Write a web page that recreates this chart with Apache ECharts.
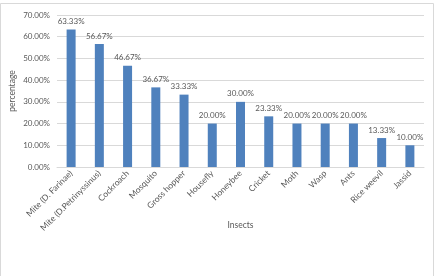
<!DOCTYPE html>
<html>
<head>
  <meta charset="utf-8" />
  <title>Insects</title>
  <script src="https://cdn.jsdelivr.net/npm/echarts@6/dist/echarts.min.js"></script>
  <style>
    html, body { margin: 0; padding: 0; background: #fff; }
    #main { width: 436px; height: 276px; }
  </style>
</head>
<body>
  <div id="main"></div>
  <script>
    let insects = ["Mite (D. Farinae)", "Mite (D.Petrinyssinus)", "Cockroach", "Mosquito", "Gross hopper",
      "Housefly", "Honeybee", "Cricket", "Moth", "Wasp", "Ants", "Rice weevil", "Jassid"];
    let percentage = [63.33, 56.67, 46.67, 36.67, 33.33, 20.0, 30.0, 23.33, 20.0, 20.0, 20.0, 13.33, 10.0];
    let yTicks = [0, 10, 20, 30, 40, 50, 60, 70];

    const txt = "#595959";
    const font = "Lato";

    option = {
      animation: false,
      textStyle: { fontFamily: font },
      graphic: [
        {
          type: "rect",
          shape: { x: 0.5, y: 3.5, width: 433, height: 280 },
          style: { fill: "none", stroke: "#d9d9d9", lineWidth: 1 },
          silent: true,
        },
      ],
      grid: {
        left: 57,
        right: 12,
        top: 15,
        bottom: 109,
      },
      xAxis: {
        type: "category",
        data: insects,
        name: "Insects",
        nameLocation: "middle",
        nameGap: 54,
        nameMoveOverlap: false,
        nameTextStyle: { color: txt, fontSize: 8.5, fontFamily: font },
        axisLine: { lineStyle: { color: "#d9d9d9" } },
        axisTick: { show: false },
        axisLabel: {
          rotate: 45,
          interval: 0,
          color: txt,
          fontSize: 8.5,
          fontFamily: font,
          margin: 5,
        },
      },
      yAxis: {
        type: "value",
        min: yTicks[0],
        max: yTicks[yTicks.length - 1],
        interval: 10,
        name: "percentage",
        nameLocation: "middle",
        nameGap: 40,
        nameMoveOverlap: false,
        nameTextStyle: { color: txt, fontSize: 8.5, fontFamily: font },
        axisLine: { show: false },
        axisTick: { show: false },
        splitLine: { lineStyle: { color: "#d9d9d9" } },
        axisLabel: {
          color: txt,
          fontSize: 8,
          fontFamily: font,
          margin: 7,
          formatter: (v) => v.toFixed(2) + "%",
        },
      },
      series: [
        {
          type: "bar",
          data: percentage,
          barWidth: 9,
          itemStyle: { color: "#4f81bd" },
          label: {
            show: true,
            position: "top",
            distance: 4,
            color: txt,
            fontSize: 8,
            fontFamily: font,
            formatter: (p) => p.value.toFixed(2) + "%",
          },
        },
      ],
    };
    chartBar = echarts.init(document.getElementById("main"));
    chartBar.setOption(option);
  </script>
</body>
</html>
